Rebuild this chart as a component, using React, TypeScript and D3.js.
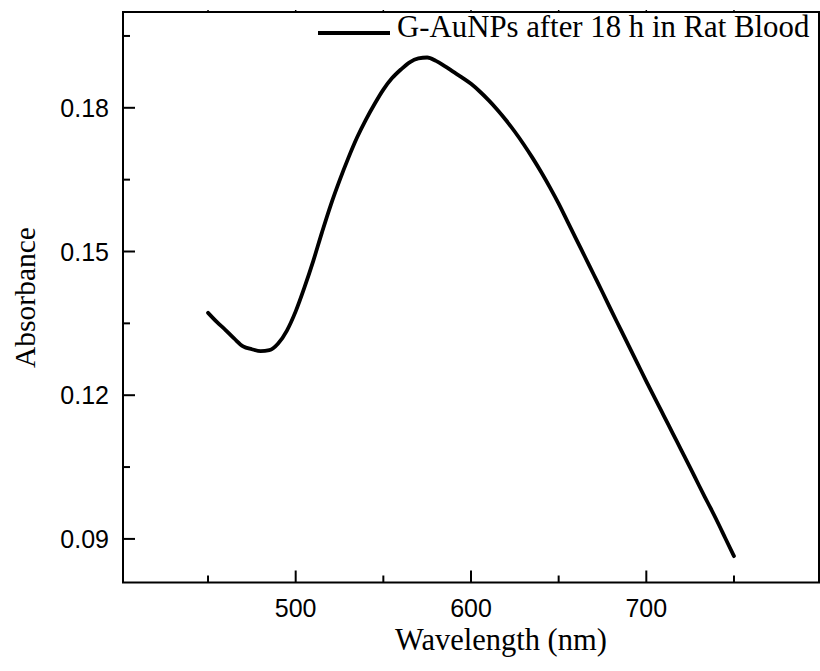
import React from "react";
import * as d3 from "d3";

const wavelengths: number[] = [
  450, 455, 460, 465, 470, 475, 480, 485, 490, 495, 500, 505, 510, 515, 520, 525, 530, 535, 540, 545,
  550, 555, 560, 565, 570, 575, 580, 585, 590, 595, 600, 605, 610, 615, 620, 625, 630, 635, 640, 645,
  650, 655, 660, 665, 670, 675, 680, 685, 690, 695, 700, 705, 710, 715, 720, 725, 730, 735, 740, 745, 750,
];
const absorbance: number[] = [
  0.1372, 0.1353, 0.1336, 0.1318, 0.1302, 0.1296, 0.1292, 0.1294, 0.1308, 0.1335,
  0.1375, 0.1425, 0.148, 0.154, 0.1597, 0.1648, 0.1695, 0.1738, 0.1775, 0.1808,
  0.1838, 0.1862, 0.188, 0.1895, 0.1903, 0.1905, 0.1898, 0.1887, 0.1875, 0.1863,
  0.185, 0.1834, 0.1816, 0.1796, 0.1774, 0.175, 0.1724, 0.1696, 0.1666, 0.1634,
  0.16, 0.1563, 0.1526, 0.1489, 0.1452, 0.1415, 0.1377, 0.134, 0.1303, 0.1266,
  0.1229, 0.1193, 0.1157, 0.1121, 0.1085, 0.1049, 0.1012, 0.0976, 0.094, 0.0902,
  0.0864,
];
const xMajorTicks: number[] = [500, 600, 700];
const xMinorTicks: number[] = [450, 550, 650, 750];
const yMajorTicks: number[] = [0.09, 0.12, 0.15, 0.18];
const yMinorTicks: number[] = [0.105, 0.135, 0.165, 0.195];
const seriesLabel = "G-AuNPs after 18 h in Rat Blood";
const xTitle = "Wavelength (nm)";
const yTitle = "Absorbance";

const L = 123, R = 819, T = 12, B = 582.5;

export default function App() {
  const x = d3.scaleLinear().domain([401.5, 798.5]).range([L, R]);
  const y = d3.scaleLinear().domain([0.0809, 0.2]).range([B, T]);
  const pts: [number, number][] = wavelengths.map((w, i) => [w, absorbance[i]]);
  const line = d3
    .line<[number, number]>()
    .x((d) => x(d[0]))
    .y((d) => y(d[1]))
    .curve(d3.curveMonotoneX);
  const sans = "'Liberation Sans', Arial, sans-serif";
  const serif = "'Liberation Serif', 'Times New Roman', serif";
  return (
    <div style={{ position: "absolute", left: 0, top: 0 }}>
      <svg width={820} height={671} style={{ display: "block", background: "#fff" }}>
        <path d={line(pts) || ""} fill="none" stroke="#000" strokeWidth={3.8} strokeLinejoin="round" strokeLinecap="round" />
        <rect x={L} y={T} width={R - L} height={B - T} fill="none" stroke="#000" strokeWidth={2} />
        {xMajorTicks.map((t) => (
          <g key={"xm" + t}>
            <line x1={x(t)} x2={x(t)} y1={B} y2={B - 12} stroke="#000" strokeWidth={2} />
            <line x1={x(t)} x2={x(t)} y1={T} y2={T - 2} stroke="#000" strokeWidth={1.5} />
            <text x={x(t)} y={617} textAnchor="middle" fontFamily={sans} fontSize={25}>
              {t}
            </text>
          </g>
        ))}
        {xMinorTicks.map((t) => (
          <g key={"xn" + t}>
            <line x1={x(t)} x2={x(t)} y1={B} y2={B - 7} stroke="#000" strokeWidth={2} />
            <line x1={x(t)} x2={x(t)} y1={T} y2={T - 2} stroke="#000" strokeWidth={1.5} />
          </g>
        ))}
        {yMajorTicks.map((t) => (
          <g key={"ym" + t}>
            <line x1={L} x2={L + 12} y1={y(t)} y2={y(t)} stroke="#000" strokeWidth={2} />
            <text x={109} y={y(t) + 9} textAnchor="end" fontFamily={sans} fontSize={25}>
              {t.toFixed(2)}
            </text>
          </g>
        ))}
        {yMinorTicks.map((t) => (
          <line key={"yn" + t} x1={L} x2={L + 7} y1={y(t)} y2={y(t)} stroke="#000" strokeWidth={2} />
        ))}
        <line x1={318} x2={390} y1={33} y2={33} stroke="#000" strokeWidth={3.8} />
        <text x={397} y={37} fontFamily={serif} fontSize={30.8}>
          {seriesLabel}
        </text>
        <text x={(L + R) / 2 + 30} y={650} textAnchor="middle" fontFamily={serif} fontSize={30.5}>
          {xTitle}
        </text>
        <text
          transform={`translate(35, ${297.5}) rotate(-90)`}
          textAnchor="middle"
          fontFamily={serif}
          fontSize={29.5}
        >
          {yTitle}
        </text>
      </svg>
    </div>
  );
}
